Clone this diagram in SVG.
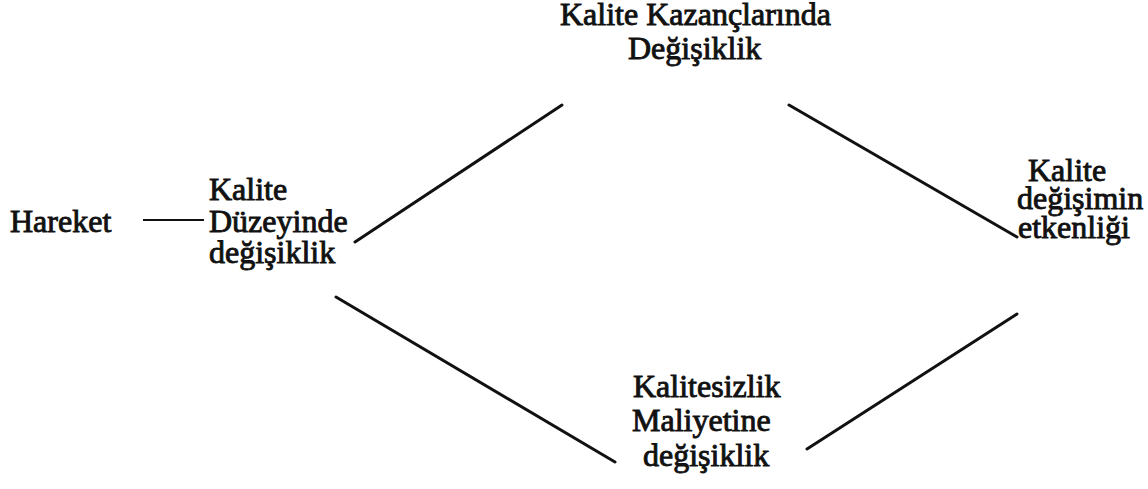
<svg xmlns="http://www.w3.org/2000/svg" width="1148" height="489" viewBox="0 0 1148 489">
  <style>
    .link { stroke: #111; stroke-width: 3; stroke-linecap: round; fill: none; }
    .tie { stroke: #111; stroke-width: 2; fill: none; }
  </style>
  <rect width="1148" height="489" fill="#fff"/>

  <!-- connectors -->
  <g id="connectors">
    <line class="tie" x1="143" y1="220" x2="204" y2="220"/>
    <line class="link" x1="355" y1="242" x2="562" y2="105"/>
    <line class="link" x1="789" y1="105" x2="1017" y2="237"/>
    <line class="link" x1="336" y1="297" x2="615" y2="462"/>
    <line class="link" x1="807" y1="449" x2="1017" y2="314"/>
  </g>

  <!-- node labels: serif text, slightly thickened -->
  <g font-family="'Liberation Serif', 'Times New Roman', Times, serif" font-size="32" fill="#111" stroke="#111" stroke-width="0.9">
    <g id="hareket">
      <text x="10" y="232">Hareket</text>
    </g>

    <g id="kalite-duzeyi">
      <text x="209" y="200">Kalite</text>
      <text x="209" y="232">Düzeyinde</text>
      <text x="209" y="263">değişiklik</text>
    </g>

    <g id="kalite-kazanclari">
      <text x="560" y="25">Kalite Kazançlarında</text>
      <text x="628" y="59">Değişiklik</text>
    </g>

    <g id="kalitesizlik-maliyeti">
      <text x="633" y="397">Kalitesizlik</text>
      <text x="632" y="431">Maliyetine</text>
      <text x="643" y="466">değişiklik</text>
    </g>

    <g id="etkinlik">
      <text x="1028" y="181">Kalite</text>
      <text x="1017" y="209">değişimin</text>
      <text x="1018" y="238">etkenliği</text>
    </g>
  </g>
</svg>
